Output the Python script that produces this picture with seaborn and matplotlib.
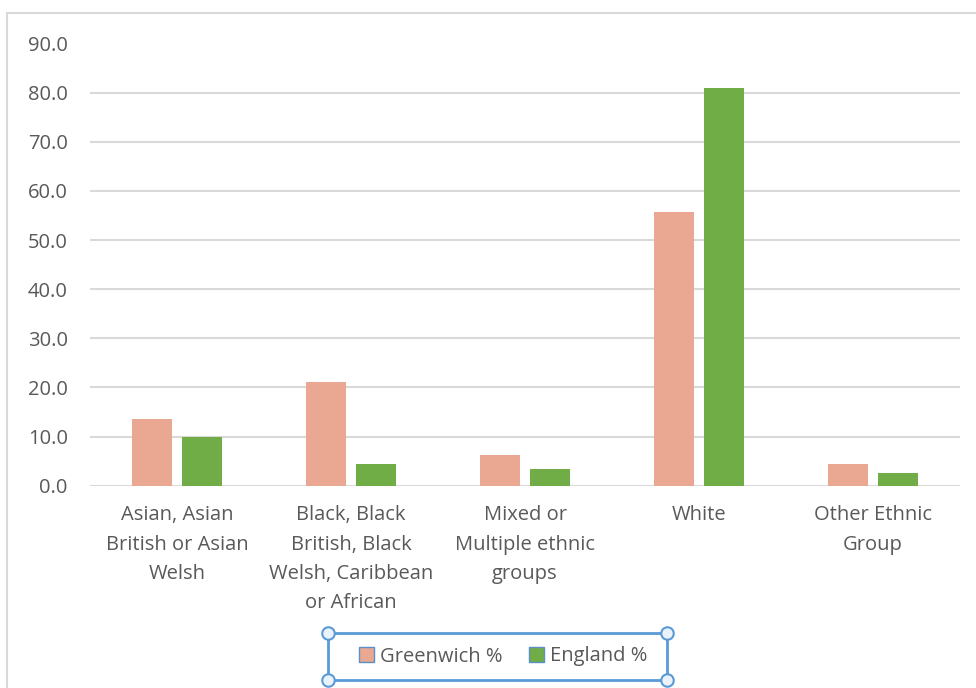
import matplotlib
matplotlib.use("Agg")
import matplotlib.pyplot as plt
from matplotlib.patches import Patch, Rectangle
from matplotlib.lines import Line2D
import seaborn as sns
import pandas as pd

# Ethnic group share of population, percent
categories = [
    "Asian, Asian\nBritish or Asian\nWelsh",
    "Black, Black\nBritish, Black\nWelsh, Caribbean\nor African",
    "Mixed or\nMultiple ethnic\ngroups",
    "White",
    "Other Ethnic\nGroup",
]
greenwich = [13.5, 21.2, 6.2, 55.7, 4.5]
england = [9.9, 4.5, 3.3, 81.0, 2.5]
series_names = ["Greenwich %", "England %"]
y_ticks = [0, 10, 20, 30, 40, 50, 60, 70, 80, 90]

colors = ["#EAA893", "#70AD47"]
text_color = "#595959"
grid_color = "#D9D9D9"
select_color = "#5B9BD5"

df = pd.DataFrame({
    "category": categories * 2,
    "value": greenwich + england,
    "series": [series_names[0]] * len(categories) + [series_names[1]] * len(categories),
})

sns.set_theme(style="white")
plt.rcParams["font.family"] = ["Open Sans", "DejaVu Sans"]

fig = plt.figure(figsize=(9.76, 6.88), dpi=100)
W, H = 976, 688
ax = fig.add_axes([90 / W, 1 - 485.7 / H, 870 / W, (485.7 - 43.5) / H])

sns.barplot(
    data=df, x="category", y="value", hue="series",
    palette=colors, saturation=1, width=0.575, gap=0.21, ax=ax,
    edgecolor="none", legend=False, errorbar=None,
)

ax.set_ylim(0, 90)
ax.set_xlim(-0.5, len(categories) - 0.5)
ax.set_yticks(y_ticks)
ax.set_yticklabels([f"{v:.1f}" for v in y_ticks])
ax.yaxis.grid(True, color=grid_color, linewidth=1.5)
ax.set_axisbelow(True)
for s in ax.spines.values():
    s.set_visible(False)
ax.set_xlabel("")
ax.set_ylabel("")
ax.tick_params(axis="y", length=0, pad=16, labelsize=14.5, labelcolor=text_color)
ax.tick_params(axis="x", length=0, pad=14, labelsize=14.5, labelcolor=text_color)
for lbl in ax.get_xticklabels():
    lbl.set_linespacing(1.63)

# Outer chart border
fig.add_artist(Rectangle((7 / W, -0.1), 1.2, 1.1 - 13 / H, transform=fig.transFigure,
                         fill=False, edgecolor=grid_color, linewidth=1.5))

# Legend entries
handles = [Patch(facecolor=c, edgecolor="#5B8FC7", linewidth=1.0) for c in colors]
leg = fig.legend(
    handles, series_names, loc="center", bbox_to_anchor=(503 / W, 1 - 656.5 / H),
    ncol=2, frameon=False, fontsize=14.5, labelcolor=text_color,
    handlelength=0.75, handleheight=0.75, handletextpad=0.3, columnspacing=1.3,
    borderpad=0, borderaxespad=0,
)

# Selection frame around the legend, with corner handles
x0, x1 = 328 / W, 667 / W
y0, y1 = 1 - 680 / H, 1 - 633 / H
fig.add_artist(Rectangle((x0, y0), x1 - x0, y1 - y0, transform=fig.transFigure,
                         fill=False, edgecolor=select_color, linewidth=2.0))
fig.add_artist(Line2D([x0, x1, x0, x1], [y0, y0, y1, y1], transform=fig.transFigure,
                      linestyle="none", marker="o", markersize=9,
                      markerfacecolor="#EAF2FB", markeredgecolor=select_color,
                      markeredgewidth=1.5))

fig.savefig("out.png", dpi=100)
